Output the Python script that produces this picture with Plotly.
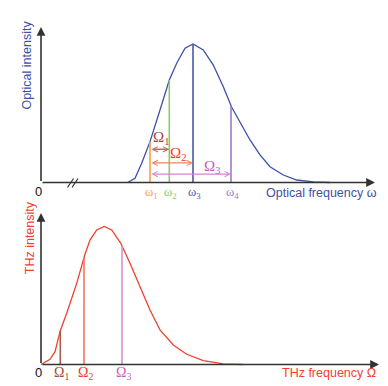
import numpy as np
import plotly.graph_objects as go

# ---------------- data (arbitrary units) ----------------
opt_freq = [86.7, 94, 100.7, 109, 119, 128.3, 135.7, 144, 152, 162.3, 172.3, 182.3,
            190.7, 199, 209, 219, 229, 242.3, 255.7, 272.3, 289]
opt_int = [0, 0.030, 0.139, 0.295, 0.523, 0.740, 0.861, 0.969, 1.0, 0.957, 0.848, 0.692,
           0.543, 0.439, 0.307, 0.199, 0.114, 0.054, 0.018, 0.004, 0]

thz_freq = [0, 9, 14, 19.3, 25.7, 35.7, 44, 49, 55.7, 63.3, 70.7, 79.7, 89, 99, 109,
            119, 132.3, 145.7, 162.3, 182.3, 202]
thz_int = [0, 0.038, 0.093, 0.245, 0.371, 0.588, 0.799, 0.902, 0.975, 1.0, 0.975, 0.880,
           0.733, 0.564, 0.395, 0.25, 0.141, 0.074, 0.028, 0.004, 0]

omega = [109, 128.3, 152, 190]          # optical lines ω1..ω4
omega_labels = ["ω<sub>1</sub>", "ω<sub>2</sub>", "ω<sub>3</sub>", "ω<sub>4</sub>"]
Omega = [o - omega[0] for o in omega[1:]]  # THz difference frequencies Ω1..Ω3
Omega_labels = ["Ω<sub>1</sub>", "Ω<sub>2</sub>", "Ω<sub>3</sub>"]

# ---------------- styles ----------------
BLUE = "#3f4fa6"
RED = "#f0402e"
AXC = "#333333"
omega_colors = ["#f4a043", "#8ec866", "#4a58aa", "#9a7cc4"]
Omega_line_colors = ["#a55a52", "#f27563", "#d892c8"]
Omega_text_colors = ["#a5473a", "#f03a2a", "#c95cba"]
Omega_arrow_colors = ["#b0705e", "#f7805a", "#dd80d2"]

fig = go.Figure()

# curves
fig.add_trace(go.Scatter(x=opt_freq, y=opt_int, mode="lines",
                         line=dict(color=BLUE, width=1.3), xaxis="x", yaxis="y"))
fig.add_trace(go.Scatter(x=thz_freq, y=thz_int, mode="lines",
                         line=dict(color=RED, width=1.3), xaxis="x2", yaxis="y2"))

# vertical lines in optical panel
for w, c in zip(omega, omega_colors):
    h = float(np.interp(w, opt_freq, opt_int))
    fig.add_trace(go.Scatter(x=[w, w], y=[0, h], mode="lines",
                             line=dict(color=c, width=1.6), xaxis="x", yaxis="y"))
# vertical lines in THz panel
for W, c in zip(Omega, Omega_line_colors):
    h = float(np.interp(W, thz_freq, thz_int))
    fig.add_trace(go.Scatter(x=[W, W], y=[0, h], mode="lines",
                             line=dict(color=c, width=1.6), xaxis="x2", yaxis="y2"))

# axis break marks
for x0 in [26.5, 31]:
    fig.add_trace(go.Scatter(x=[x0, x0 + 6], y=[-0.036, 0.029], mode="lines",
                             line=dict(color=AXC, width=1.2), xaxis="x", yaxis="y"))

ann = []
# axes with arrowheads
def axis_arrow(xref, yref, x0, y0, x1, y1):
    return dict(x=x1, y=y1, ax=x0, ay=y0, xref=xref, yref=yref, axref=xref, ayref=yref,
                showarrow=True, arrowhead=2, arrowsize=1.1, arrowwidth=1.6,
                arrowcolor=AXC, text="")

ann.append(axis_arrow("x", "y", 0, 0, 334, 0))
ann.append(axis_arrow("x", "y", 0, 0, 0, 1.123))
ann.append(axis_arrow("x2", "y2", 0, 0, 338, 0))
ann.append(axis_arrow("x2", "y2", 0, 0, 0, 1.098))

# Ω double arrows in optical panel
arrow_levels = [0.240, 0.141, 0.061]
for i, (W, lvl) in enumerate(zip(Omega, arrow_levels)):
    ann.append(dict(x=omega[0] + W, y=lvl, ax=omega[0], ay=lvl, xref="x", yref="y",
                    axref="x", ayref="y", showarrow=True, arrowhead=5, startarrowhead=5,
                    arrowside="end+start", arrowsize=0.8, startarrowsize=0.8,
                    arrowwidth=1.3, arrowcolor=Omega_arrow_colors[i], text="",
                    standoff=0, startstandoff=0))

# Ω labels near arrows
lab_pos = [(120, 0.318), (136.5, 0.208), (171, 0.113)]
for (lx, ly), t, c in zip(lab_pos, Omega_labels, Omega_text_colors):
    ann.append(dict(x=lx, y=ly, xref="x", yref="y", text=t, showarrow=False,
                    font=dict(family="Liberation Serif", size=15, color=c)))

# ω tick labels
for w, t, c in zip(omega, omega_labels, omega_colors):
    ann.append(dict(x=w + 1.5, y=-0.074, xref="x", yref="y", text=t, showarrow=False,
                    font=dict(family="Liberation Serif", size=12.5, color=c)))
# Ω tick labels
for W, t, c in zip(Omega, Omega_labels, Omega_text_colors):
    ann.append(dict(x=W + 1.5, y=-0.062, xref="x2", yref="y2", text=t, showarrow=False,
                    font=dict(family="Liberation Serif", size=14, color=c)))

# zeros
ann.append(dict(x=-3, y=-0.062, xref="x", yref="y", text="0", showarrow=False,
                font=dict(family="Liberation Sans", size=13, color="#111")))
ann.append(dict(x=-3, y=-0.058, xref="x2", yref="y2", text="0", showarrow=False,
                font=dict(family="Liberation Sans", size=13, color="#111")))

# axis titles
ann.append(dict(x=-13.5, y=0.848, xref="x", yref="y", text="Optical intensity",
                textangle=-90, showarrow=False,
                font=dict(family="Liberation Sans", size=12.5, color=BLUE)))
ann.append(dict(x=-11, y=0.915, xref="x2", yref="y2", text="THz intensity",
                textangle=-90, showarrow=False,
                font=dict(family="Liberation Sans", size=12.5, color=RED)))
ann.append(dict(x=280.5, y=-0.074, xref="x", yref="y", text="Optical frequency ω",
                showarrow=False,
                font=dict(family="Liberation Sans", size=12.5, color=BLUE)))
ann.append(dict(x=288, y=-0.064, xref="x2", yref="y2", text="THz frequency Ω",
                showarrow=False,
                font=dict(family="Liberation Sans", size=12.5, color=RED)))

split = 1 - 200 / 386
fig.update_layout(
    width=388, height=386, margin=dict(l=0, r=0, t=0, b=0),
    paper_bgcolor="white", plot_bgcolor="white", showlegend=False,
    xaxis=dict(domain=[0, 1], range=[-41, 347], visible=False, anchor="y"),
    yaxis=dict(domain=[split, 1], range=[-0.1264, 1.3177], visible=False, anchor="x"),
    xaxis2=dict(domain=[0, 1], range=[-41, 347], visible=False, anchor="y2"),
    yaxis2=dict(domain=[0, split], range=[-0.1558, 1.192], visible=False, anchor="x2"),
    annotations=ann,
)

fig.write_html("out.html", config={"displayModeBar": False},
               post_script="document.body.style.margin='0';document.body.style.overflow='hidden';")
